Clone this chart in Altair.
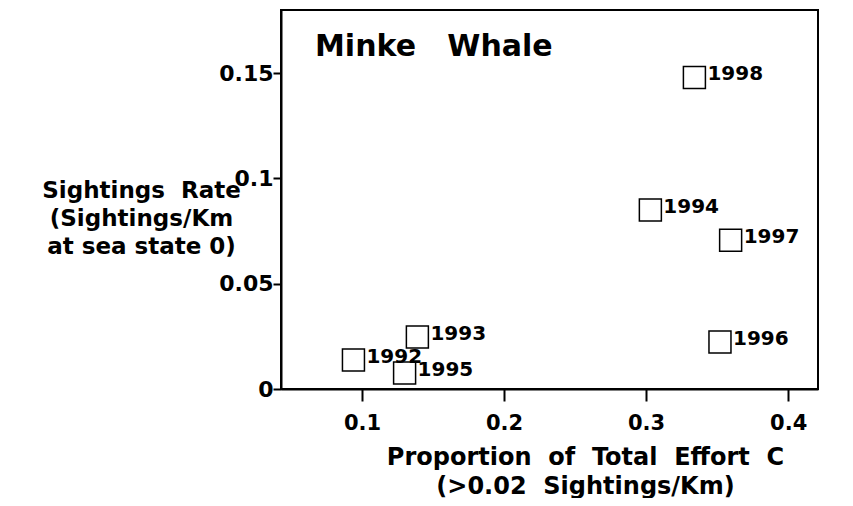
import altair as alt
import pandas as pd

years = ["1992", "1993", "1994", "1995", "1996", "1997", "1998"]
proportion = [0.094, 0.139, 0.303, 0.130, 0.352, 0.3595, 0.334]
rate = [0.0138, 0.0247, 0.085, 0.0076, 0.0223, 0.0707, 0.148]

x_ticks = [0.1, 0.2, 0.3, 0.4]
y_ticks = [0, 0.05, 0.1, 0.15]

NB = "\u00a0"
x_title = [f"Proportion {NB}of {NB}Total {NB}Effort {NB}C", f"(>0.02 {NB}Sightings/Km)"]
y_title = [f"Sightings {NB}Rate", "(Sightings/Km", "at sea state 0)"]
chart_title = f"Minke {NB}{NB}Whale"

df = pd.DataFrame({"year": years, "proportion": proportion, "rate": rate})

FONT = "DejaVu Sans"

base = alt.Chart(df).encode(
    x=alt.X(
        "proportion:Q",
        scale=alt.Scale(domain=[0.043, 0.421], nice=False, zero=False),
        axis=alt.Axis(
            values=x_ticks,
            format=".1f",
            title=x_title,
            tickSize=12,
            labelPadding=11,
            labelFontSize=21,
            titleFontSize=24,
            titleX=304,
            titleY=56,
            titleAlign="center",
            titleBaseline="top",
            titleLineHeight=29,
        ),
    ),
    y=alt.Y(
        "rate:Q",
        scale=alt.Scale(domain=[0, 0.18], nice=False),
        axis=alt.Axis(
            values=y_ticks,
            format=".2~f",
            title=y_title,
            tickSize=8,
            labelPadding=0,
            labelFontSize=22,
            titleFontSize=23,
            titleAngle=0,
            titleX=-140,
            titleY=169,
            titleAlign="center",
            titleBaseline="top",
            titleLineHeight=28,
        ),
    ),
)

points = base.mark_point(
    shape="square", size=484, filled=False, color="black", strokeWidth=1.5, opacity=1
)

labels = base.mark_text(
    align="left", baseline="middle", dx=13, dy=-3,
    font=FONT, fontWeight="bold", fontSize=20, color="black"
).encode(text="year:N")

chart = (
    alt.layer(points, labels)
    .properties(
        width=537,
        height=379,
        padding={"left": 273, "top": 2, "right": 27, "bottom": 109},
        autosize=alt.AutoSizeParams(type="none"),
        title=alt.TitleParams(
            chart_title,
            anchor="start",
            frame="group",
            font=FONT,
            fontWeight="bold",
            fontSize=30,
            baseline="alphabetic",
            offset=0,
            dx=34,
            dy=76,
            color="black",
        ),
    )
    .configure_view(stroke="black", strokeWidth=2)
    .configure_axis(
        grid=False,
        domainColor="black",
        domainWidth=2,
        tickColor="black",
        tickWidth=2,
        labelColor="black",
        titleColor="black",
        labelFont=FONT,
        titleFont=FONT,
        labelFontWeight="bold",
        titleFontWeight="bold",
    )
)

chart.save("out.html", embed_options={"renderer": "svg", "actions": False})
